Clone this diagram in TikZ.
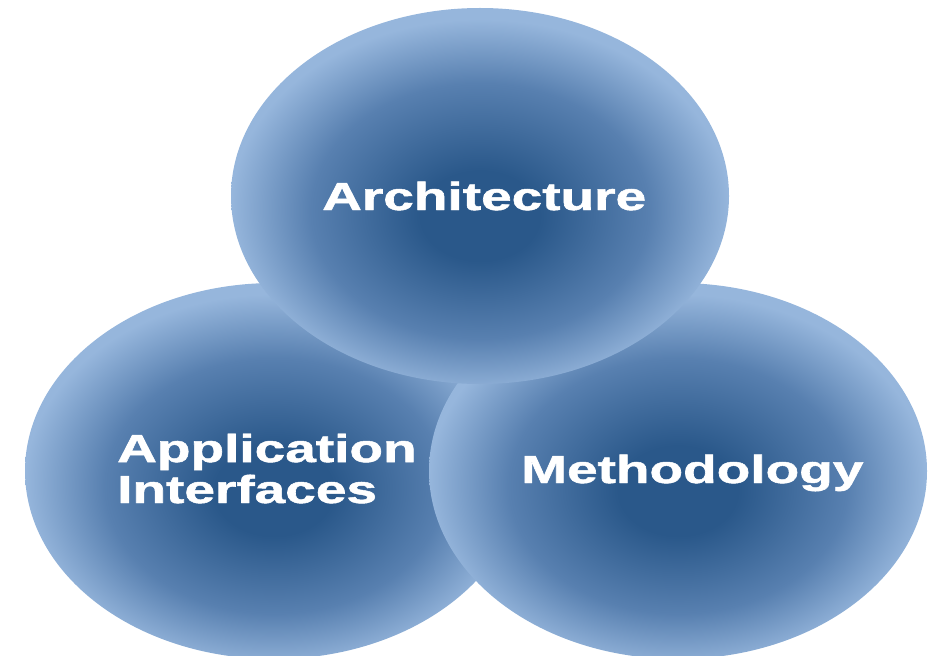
\documentclass[tikz,border=0pt]{standalone}
\usepackage{fontspec}
\setmainfont{Liberation Sans}[BoldFeatures={FakeBold=1.2}]
\definecolor{balldark}{RGB}{42,88,138}
\definecolor{ballmid}{RGB}{88,128,176}
\definecolor{balllight}{RGB}{150,182,220}
\pgfdeclareradialshading{bluball}{\pgfpoint{0bp}{-3bp}}{%
  color(0bp)=(balldark); color(6bp)=(balldark); color(17bp)=(ballmid);
  color(25bp)=(balllight); color(50bp)=(balllight)}
\tikzset{
  bubble/.style={shading=bluball},
  lbl/.style={text=white, inner sep=0pt, font=\bfseries\fontsize{55}{57.7}\selectfont,
    yscale=0.71, transform shape, align=left}
}
\begin{document}
\begin{tikzpicture}[x=1pt,y=-1pt]
\useasboundingbox (0,0) rectangle (941,655);
\shade[bubble] (274,471) ellipse [x radius=249, y radius=188];
\shade[bubble] (678,471) ellipse [x radius=249, y radius=188];
\shade[bubble] (480,196) ellipse [x radius=249, y radius=188];
\node[lbl, anchor=base west] (arch) at (322,210) {Architecture};
\node[lbl, anchor=base west] (app) at (117,503) {Application\\Interfaces};
\node[lbl, anchor=base west] (meth) at (521,483) {Methodology};
\end{tikzpicture}
\end{document}
